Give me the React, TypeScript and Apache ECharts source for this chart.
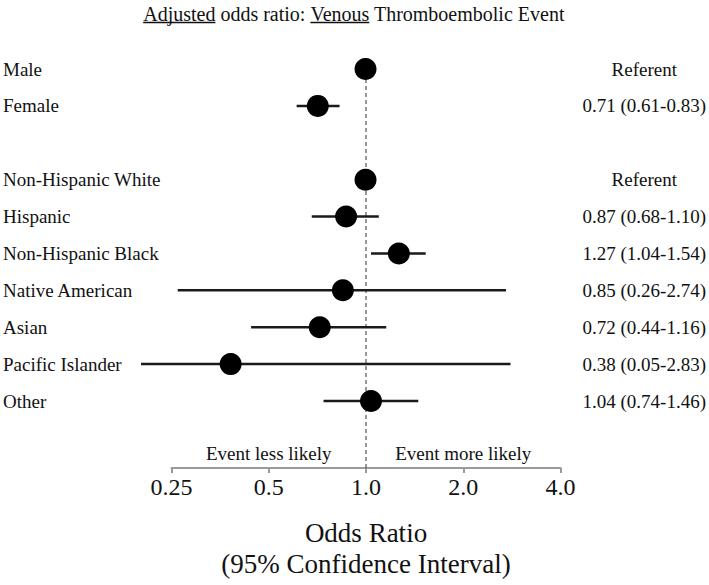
import React, { useEffect, useRef } from "react";
import * as echarts from "echarts";

const ROWS = [
  "Male",
  "Female",
  "",
  "Non-Hispanic White",
  "Hispanic",
  "Non-Hispanic Black",
  "Native American",
  "Asian",
  "Pacific Islander",
  "Other",
];
const ODDS = [1, 0.71, null, 1, 0.87, 1.27, 0.85, 0.72, 0.38, 1.04];
const LOWER = [null, 0.61, null, null, 0.68, 1.04, 0.26, 0.44, 0.05, 0.74];
const UPPER = [null, 0.83, null, null, 1.1, 1.54, 2.74, 1.16, 2.83, 1.46];
const REFERENT = [true, false, false, true, false, false, false, false, false, false];

const TICKS = [0.25, 0.5, 1, 2, 4];
const TICK_LABELS = ["0.25", "0.5", "1.0", "2.0", "4.0"];
const REF_VALUE = 1;

const TITLE_PARTS = [
  { text: "Adjusted", underline: true },
  { text: " odds ratio: ", underline: false },
  { text: "Venous", underline: true },
  { text: " Thromboembolic Event", underline: false },
];

const FONT = '"Liberation Serif", "DejaVu Serif", serif';

// layout constants
const X_MIN_DRAW = 0.2; // clip limit of CI lines
const PX_LEFT_TICK = 171.5; // pixel of 0.25
const PX_RIGHT_TICK = 560.5; // pixel of 4.0
const ROW_FIRST = 69;
const ROW_LAST = 401;

export default function App() {
  const ref = useRef<HTMLDivElement>(null);

  useEffect(() => {
    if (!ref.current) return;
    const chart = echarts.init(ref.current, null, { renderer: "svg" });

    const log2 = (v: number) => Math.log(v) / Math.LN2;
    const k = (PX_RIGHT_TICK - PX_LEFT_TICK) / (log2(TICKS[TICKS.length - 1]) - log2(TICKS[0]));
    const pxOf = (v: number) => PX_LEFT_TICK + k * (log2(v) - log2(TICKS[0]));
    const gridALeft = pxOf(X_MIN_DRAW);
    const gridAWidth = PX_RIGHT_TICK - gridALeft;
    const band = (ROW_LAST - ROW_FIRST) / (ROWS.length - 1);
    const gridATop = ROW_FIRST - band / 2;
    const gridAHeight = band * ROWS.length;
    const axisY = 468;
    const gridBTop = 60;

    const rightLabels = ROWS.map((_, i) => {
      if (REFERENT[i]) return "Referent";
      if (ODDS[i] == null) return "";
      return `${(ODDS[i] as number).toFixed(2)} (${(LOWER[i] as number).toFixed(2)}-${(UPPER[i] as number).toFixed(2)})`;
    });

    const pointData: number[][] = [];
    const ciData: number[][] = [];
    ROWS.forEach((_, i) => {
      if (ODDS[i] != null) pointData.push([ODDS[i] as number, i]);
      if (LOWER[i] != null && UPPER[i] != null) ciData.push([LOWER[i] as number, UPPER[i] as number, i]);
    });

    // title with underlines
    const titleSize = 20;
    const ctx = document.createElement("canvas").getContext("2d")!;
    ctx.font = `${titleSize}px ${FONT}`;
    const widths = TITLE_PARTS.map((p) => ctx.measureText(p.text).width);
    const total = widths.reduce((a, b) => a + b, 0);
    const titleCenter = 354;
    const titleMid = 14;
    let cursor = titleCenter - total / 2;
    const titleEls: any[] = [];
    TITLE_PARTS.forEach((p, i) => {
      titleEls.push({
        type: "text",
        x: cursor,
        y: titleMid,
        style: {
          text: p.text,
          font: `${titleSize}px ${FONT}`,
          fill: "#111",
          textAlign: "left",
          textVerticalAlign: "middle",
        },
      });
      if (p.underline) {
        titleEls.push({
          type: "line",
          shape: { x1: cursor, y1: 22.5, x2: cursor + widths[i], y2: 22.5 },
          style: { stroke: "#111", lineWidth: 1.3 },
        });
      }
      cursor += widths[i];
    });

    chart.setOption({
      animation: false,
      backgroundColor: "#fff",
      textStyle: { fontFamily: FONT },
      grid: [
        { left: gridALeft, width: gridAWidth, top: gridATop, height: gridAHeight },
        { left: PX_LEFT_TICK, width: PX_RIGHT_TICK - PX_LEFT_TICK, top: gridBTop, height: axisY - gridBTop },
      ],
      xAxis: [
        { gridIndex: 0, type: "log", logBase: 2, min: X_MIN_DRAW, max: TICKS[TICKS.length - 1], show: false },
        {
          gridIndex: 1,
          type: "log",
          logBase: 2,
          min: TICKS[0],
          max: TICKS[TICKS.length - 1],
          axisLine: { show: true, lineStyle: { color: "#9a9a9a", width: 2 } },
          axisTick: { show: true, length: 5, lineStyle: { color: "#9a9a9a", width: 2 } },
          splitLine: { show: false },
          axisLabel: {
            margin: 7,
            fontSize: 24,
            color: "#111",
            fontFamily: FONT,
            formatter: (v: number) => {
              const idx = TICKS.findIndex((t) => Math.abs(t - v) < 1e-6);
              return idx >= 0 ? TICK_LABELS[idx] : "";
            },
          },
          name: "Odds Ratio\n(95% Confidence Interval)",
          nameLocation: "middle",
          nameGap: 49,
          nameTextStyle: { fontSize: 27, lineHeight: 31, color: "#111", fontFamily: FONT },
        },
      ],
      yAxis: [
        {
          gridIndex: 0,
          type: "category",
          inverse: true,
          data: ROWS,
          axisLine: { show: false },
          axisTick: { show: false },
          splitLine: { show: false },
          axisLabel: { align: "left", margin: gridALeft - 2, fontSize: 19, color: "#111", fontFamily: FONT },
        },
        {
          gridIndex: 0,
          type: "category",
          inverse: true,
          position: "right",
          data: ROWS,
          axisLine: { show: false },
          axisTick: { show: false },
          splitLine: { show: false },
          axisLabel: {
            align: "center",
            margin: 646 - PX_RIGHT_TICK,
            fontSize: 19,
            color: "#111",
            fontFamily: FONT,
            formatter: (_: string, i: number) => rightLabels[i],
          },
        },
        { gridIndex: 1, type: "value", min: 0, max: 1, show: false },
      ],
      series: [
        {
          type: "line",
          xAxisIndex: 1,
          yAxisIndex: 2,
          data: [
            [REF_VALUE, 0],
            [REF_VALUE, 1],
          ],
          symbol: "none",
          lineStyle: { color: "#333", width: 1, type: [4, 3] },
          z: 1,
        },
        {
          type: "custom",
          xAxisIndex: 0,
          yAxisIndex: 0,
          clip: true,
          encode: { x: [0, 1], y: 2 },
          data: ciData,
          renderItem: (params: any, api: any) => {
            const p1 = api.coord([api.value(0), api.value(2)]);
            const p2 = api.coord([api.value(1), api.value(2)]);
            return {
              type: "line",
              shape: { x1: p1[0], y1: p1[1], x2: p2[0], y2: p2[1] },
              style: { stroke: "#1a1a1a", lineWidth: 2.5 },
            };
          },
          z: 2,
        },
        {
          type: "scatter",
          xAxisIndex: 0,
          yAxisIndex: 0,
          data: pointData,
          symbol: "circle",
          symbolSize: 22,
          itemStyle: { color: "#000", opacity: 1 },
          z: 3,
        },
      ],
      graphic: [
        ...titleEls,
        {
          type: "text",
          x: pxOf(0.5),
          y: 453,
          style: { text: "Event less likely", font: `19px ${FONT}`, fill: "#111", textAlign: "center", textVerticalAlign: "middle" },
        },
        {
          type: "text",
          x: pxOf(2),
          y: 453,
          style: { text: "Event more likely", font: `19px ${FONT}`, fill: "#111", textAlign: "center", textVerticalAlign: "middle" },
        },
      ],
    });

    return () => chart.dispose();
  }, []);

  return <div ref={ref} style={{ position: "fixed", left: 0, top: 0, width: 709, height: 585 }} />;
}
